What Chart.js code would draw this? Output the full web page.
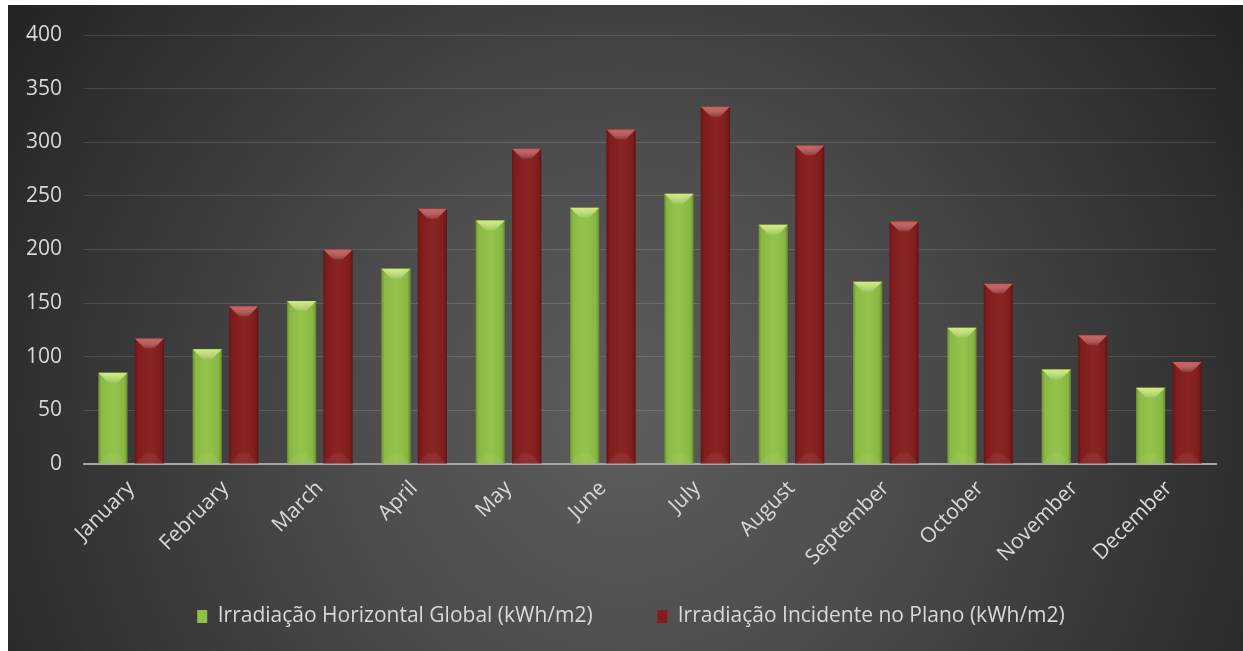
<!DOCTYPE html>
<html lang="pt">

<head>
    <meta charset="UTF-8">
    <meta name="viewport" content="width=device-width, initial-scale=1.0">
    <title>Irradiação mensal</title>
    <script src="https://cdn.jsdelivr.net/npm/chart.js"></script>
    <style>
        html, body { margin: 0; padding: 0; background: #ffffff; }
        .grafica { position: relative; width: 1243px; height: 651px; }
    </style>
</head>

<body>
    <div class="grafica">
        <canvas id="miGrafica"></canvas>
    </div>

    <script>
        // Datos
        const meses = ['January', 'February', 'March', 'April', 'May', 'June',
            'July', 'August', 'September', 'October', 'November', 'December'];
        const horizontalGlobal = [85, 107, 152, 182, 227, 239, 252, 223, 170, 127, 88, 71];
        const incidentePlano = [117, 147, 200, 238, 294, 312, 333, 297, 226, 168, 120, 95];
        const ejeY = { min: 0, max: 400, paso: 50 };

        const nombreVerde = 'Irradiação Horizontal Global (kWh/m2)';
        const nombreRojo = 'Irradiação Incidente no Plano (kWh/m2)';

        Chart.defaults.font.family = "'Open Sans', sans-serif";
        Chart.defaults.color = '#d9d9d9';

        // Fondo oscuro con degradado radial
        const fondo = {
            id: 'fondo',
            beforeDraw(chart) {
                const c = chart.ctx;
                const w = chart.width, h = chart.height;
                c.save();
                c.fillStyle = '#ffffff';
                c.fillRect(0, 0, w, h);
                const g = c.createRadialGradient(625, 420, 0, 625, 420, 760);
                g.addColorStop(0, '#5d5d5d');
                g.addColorStop(0.35, '#4d4d4d');
                g.addColorStop(1, '#222222');
                c.fillStyle = g;
                c.fillRect(8, 5, w - 8, h - 5);
                c.restore();
            }
        };

        // la leyenda está algo desplazada a la derecha en el original
        const moverLeyenda = {
            id: 'moverLeyenda',
            afterLayout(chart) {
                if (chart.legend) {
                    chart.legend.left += 19;
                    chart.legend.right += 19;
                }
            }
        };

        // Efecto de bisel sobre cada barra
        const bisel = {
            id: 'bisel',
            afterDatasetsDraw(chart) {
                const c = chart.ctx;
                const luces = ['rgba(222,245,120,0.85)', 'rgba(230,110,110,0.75)'];
                chart.data.datasets.forEach((ds, i) => {
                    const meta = chart.getDatasetMeta(i);
                    meta.data.forEach(bar => {
                        const { x, y, base, width } = bar.getProps(['x', 'y', 'base', 'width'], true);
                        const l = x - width / 2, r = x + width / 2;
                        const h = base - y;
                        const b = Math.min(10, h / 2);
                        c.save();
                        // sombreado lateral
                        const gh = c.createLinearGradient(l, 0, r, 0);
                        gh.addColorStop(0, 'rgba(0,0,0,0.25)');
                        gh.addColorStop(0.1, 'rgba(0,0,0,0.04)');
                        gh.addColorStop(0.5, 'rgba(255,255,255,0.03)');
                        gh.addColorStop(0.9, 'rgba(0,0,0,0.06)');
                        gh.addColorStop(1, 'rgba(0,0,0,0.3)');
                        c.fillStyle = gh;
                        c.fillRect(l, y, width, h);
                        // cara superior
                        const gt = c.createLinearGradient(0, y, 0, y + b);
                        gt.addColorStop(0, luces[i]);
                        gt.addColorStop(1, 'rgba(255,255,255,0.08)');
                        c.fillStyle = gt;
                        c.beginPath();
                        c.moveTo(l, y);
                        c.lineTo(r, y);
                        c.lineTo(r - b, y + b);
                        c.lineTo(l + b, y + b);
                        c.closePath();
                        c.fill();
                        // cara inferior
                        c.fillStyle = 'rgba(255,255,255,0.06)';
                        c.beginPath();
                        c.moveTo(l, base);
                        c.lineTo(r, base);
                        c.lineTo(r - b, base - b);
                        c.lineTo(l + b, base - b);
                        c.closePath();
                        c.fill();
                        c.restore();
                    });
                });
            }
        };

        const ctx = document.getElementById('miGrafica').getContext('2d');
        const chart = new Chart(ctx, {
            type: 'bar',
            data: {
                labels: meses,
                datasets: [{
                    label: nombreVerde,
                    data: horizontalGlobal,
                    backgroundColor: '#8fc145',
                    categoryPercentage: 0.772,
                    barPercentage: 0.8
                }, {
                    label: nombreRojo,
                    data: incidentePlano,
                    backgroundColor: '#861d1d',
                    categoryPercentage: 0.772,
                    barPercentage: 0.8
                }]
            },
            options: {
                responsive: true,
                maintainAspectRatio: false,
                animation: false,
                layout: { padding: { top: 35, left: 8, right: 27, bottom: 14 } },
                scales: {
                    x: {
                        grid: { display: false },
                        border: { color: '#a6a6a6', width: 2 },
                        ticks: {
                            maxRotation: 45,
                            minRotation: 45,
                            padding: 4,
                            font: { size: 21 }
                        },
                        afterFit(scale) { scale.height = 132; }
                    },
                    y: {
                        min: ejeY.min,
                        max: ejeY.max,
                        grid: { color: 'rgba(255,255,255,0.13)', drawTicks: false },
                        border: { display: false },
                        ticks: {
                            stepSize: ejeY.paso,
                            padding: 22,
                            font: { size: 21 }
                        },
                        afterFit(scale) { scale.width = 76; }
                    }
                },
                plugins: {
                    tooltip: { enabled: false },
                    legend: {
                        position: 'bottom',
                        labels: {
                            boxWidth: 10,
                            boxHeight: 13,
                            padding: 10,
                            font: { size: 21 },
                            color: '#d9d9d9',
                            generateLabels(chart) {
                                const items = Chart.defaults.plugins.legend.labels.generateLabels(chart);
                                items[0].text += '          ';
                                return items;
                            }
                        }
                    }
                }
            },
            plugins: [fondo, moverLeyenda, bisel]
        });
    </script>
</body>
</html>
